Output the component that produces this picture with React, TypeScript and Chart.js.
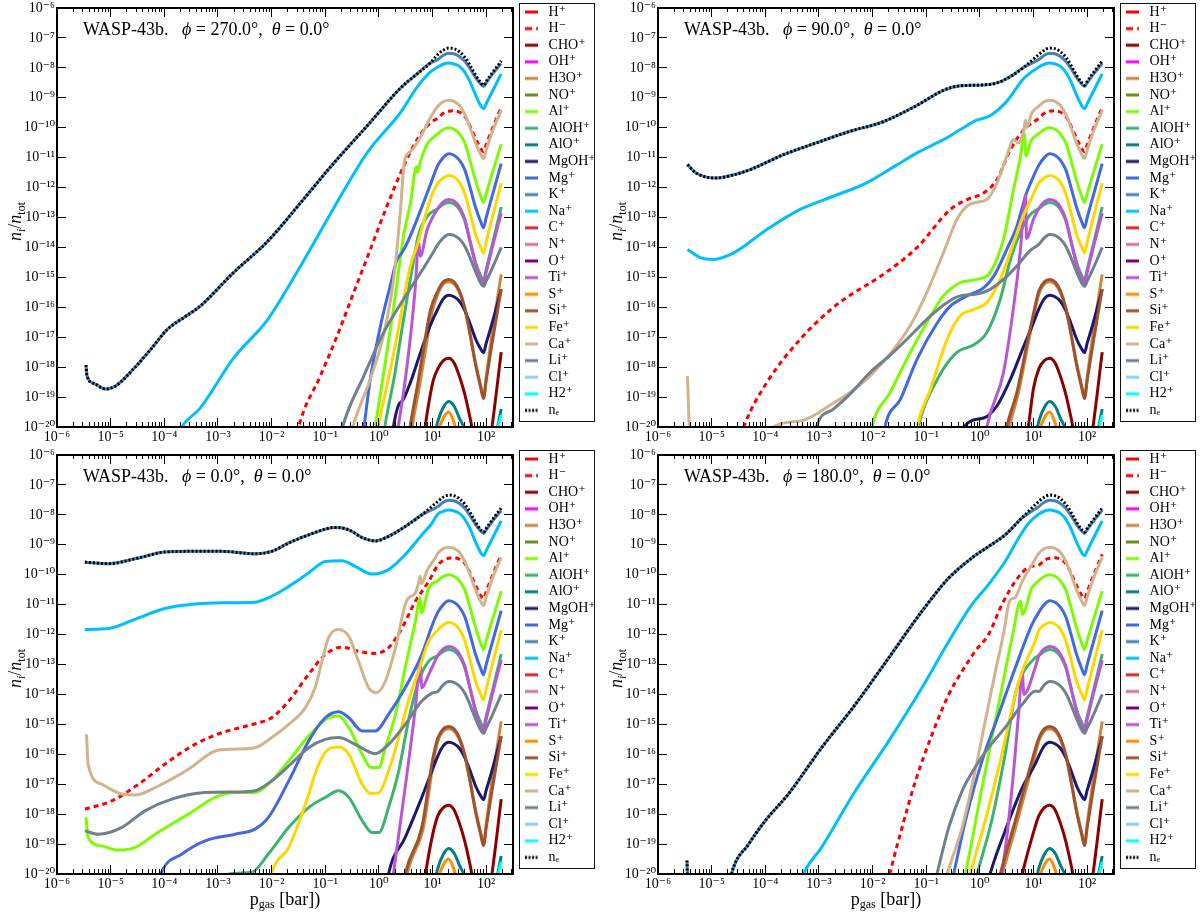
import React, { useEffect, useRef } from 'react';
import { Chart, registerables } from 'chart.js';

Chart.register(...registerables);

// ---------------- legend / series definitions ----------------
const SPECIES = ['H⁺', 'H⁻', 'CHO⁺', 'OH⁺', 'H3O⁺', 'NO⁺', 'Al⁺', 'AlOH⁺', 'AlO⁺', 'MgOH⁺', 'Mg⁺', 'K⁺', 'Na⁺', 'C⁺', 'N⁺', 'O⁺', 'Ti⁺', 'S⁺', 'Si⁺', 'Fe⁺', 'Ca⁺', 'Li⁺', 'Cl⁺', 'H2⁺', 'nₑ'];
const COLORS = ['#ff0000', '#ff0000', '#8b0000', '#ff00ff', '#cd853f', '#6b8e23', '#7cfc00', '#3cb371', '#008080', '#191970', '#4169e1', '#4682b4', '#00bfff', '#d62728', '#db7093', '#800080', '#ba55d3', '#ff8c00', '#a0522d', '#ffd700', '#d2b48c', '#708090', '#87cefa', '#00ffff', '#000000'];
const DASH_HM = [5, 4];
const DASH_NE = [2, 2];

// ---------------- axes ----------------
const X_MIN = 1e-6;
const X_MAX = 316;
const Y_MIN = 1e-20;
const Y_MAX = 1e-6;
const X_DECADES = [-6, -5, -4, -3, -2, -1, 0, 1, 2];
const X_MINOR_STEPS = [2, 3, 4, 5, 6, 7, 8, 9];
const Y_DECADES = [-20, -19, -18, -17, -16, -15, -14, -13, -12, -11, -10, -9, -8, -7, -6];

// ---------------- data: log10(p_gas [bar]) , log10(n_i/n_tot) ----------------
// deep atmosphere (shared by all four profiles), sampled at DEEP_P
const DEEP_P = [1.1, 1.2, 1.3, 1.4, 1.5, 1.6, 1.7, 1.8, 1.9, 1.95, 2.0, 2.1, 2.28];
const DEEP_NE = [-7.55, -7.41, -7.34, -7.36, -7.46, -7.64, -7.92, -8.24, -8.5, -8.58, -8.45, -8.2, -7.77];
const DEEP_K = [-7.72, -7.58, -7.51, -7.53, -7.62, -7.78, -8.03, -8.32, -8.55, -8.62, -8.5, -8.25, -7.85];
const DEEP_NA = [-7.97, -7.88, -7.84, -7.87, -7.95, -8.14, -8.47, -8.9, -9.27, -9.37, -9.2, -8.84, -8.2];
const DEEP_CA = [-9.28, -9.13, -9.08, -9.12, -9.25, -9.55, -10.0, -10.5, -10.9, -11.03, -10.75, -10.2, -9.42];
const DEEP_HM = [-9.68, -9.52, -9.45, -9.43, -9.48, -9.62, -9.95, -10.35, -10.7, -10.8, -10.57, -10.1, -9.32];
const DEEP_AL = [-10.2, -10.06, -10.0, -10.05, -10.2, -10.5, -11.1, -11.75, -12.3, -12.5, -12.2, -11.6, -10.55];
const DEEP_MG = [-11.25, -11.0, -10.87, -10.92, -11.08, -11.4, -12.0, -12.65, -13.15, -13.34, -13.0, -12.35, -11.2];
const DEEP_FE = [-11.85, -11.68, -11.6, -11.65, -11.82, -12.2, -12.85, -13.55, -14.0, -14.18, -13.82, -13.1, -11.85];
const DEEP_TI = [-12.7, -12.48, -12.4, -12.45, -12.65, -13.05, -13.8, -14.55, -15.05, -15.2, -14.83, -14.1, -12.85];
const DEEP_ALOH = [-12.7, -12.56, -12.5, -12.55, -12.72, -13.1, -13.8, -14.5, -14.95, -15.1, -14.73, -14.0, -12.65];
const DEEP_LI = [-13.9, -13.68, -13.57, -13.6, -13.72, -13.95, -14.35, -14.8, -15.2, -15.3, -15.12, -14.75, -14.0];
const DEEP_SI = [-15.45, -15.15, -15.07, -15.15, -15.45, -16.0, -16.9, -17.9, -18.7, -19.05, -18.45, -17.3, -15.4];
const DEEP_H3O = [-15.55, -15.22, -15.15, -15.22, -15.5, -16.05, -16.9, -17.85, -18.65, -19.0, -18.33, -17.0, -14.9];
const DEEP_MGOH = [-16.05, -15.72, -15.6, -15.65, -15.8, -16.1, -16.55, -17.05, -17.4, -17.52, -17.2, -16.6, -15.4];
const DEEP_CHO = [-18.05, -17.78, -17.7, -17.85, -18.3, -18.9, -19.7, -20.6, -21.5, -21.8, -21.2, -20.1, -17.5];
const DEEP_ALO = [-19.8, -19.35, -19.15, -19.3, -19.7, -20.1, -20.8, -21.5, -22, -22, -21.8, -21, -19.4];
const DEEP_S = [-20.2, -19.7, -19.5, -19.85, -20.5, -21.2, -22, -22, -22, -22, -22, -22, -22];
const DEEP_H2 = [-23, -23, -23, -23, -23, -23, -23, -23, -23, -23, -22.5, -21, -19.6];
const UP_ALO = [[1.0, -20.6]];
const UP_S = [[1.0, -21.3]];
const UP_H2: number[][] = [];

// phi = 270 deg
const P270_NE = [[-5.46, -17.93], [-5.44, -18.3], [-5.3, -18.55], [-5.1, -18.73], [-4.9, -18.62], [-4.58, -18.07], [-4.25, -17.4], [-3.95, -16.75], [-3.6, -16.3], [-3.33, -15.96], [-2.71, -14.84], [-2.07, -13.79], [-1.46, -12.51], [-0.84, -11.18], [-0.2, -9.9], [0.4, -8.68], [0.7, -8.22], [0.95, -7.85]];
const P270_NA = [[-3.8, -20.5], [-3.66, -19.96], [-3.33, -19.37], [-2.71, -17.7], [-2.07, -16.4], [-1.46, -14.62], [-0.84, -12.68], [-0.22, -10.84], [0.4, -9.5], [0.71, -8.65], [0.95, -8.15]];
const P270_HM = [[-1.55, -20.5], [-1.48, -19.9], [-1.09, -18.29], [-0.78, -16.96], [-0.47, -15.51], [-0.16, -14.07], [0.15, -12.62], [0.46, -11.29], [0.71, -10.4], [0.95, -9.85]];
const P270_CA = [[-0.55, -20.5], [-0.47, -19.9], [-0.16, -18.4], [0.09, -16.9], [0.28, -15.0], [0.4, -12.8], [0.47, -11.2], [0.55, -10.85], [0.62, -10.75], [0.78, -10.29], [0.98, -9.6]];
const P270_AL = [[-0.15, -21], [-0.06, -19.9], [0.09, -18.18], [0.28, -15.96], [0.46, -13.62], [0.59, -12.51], [0.7, -11.3], [0.72, -11.5], [0.78, -11.1], [0.9, -10.55], [1.0, -10.35]];
const P270_MG = [[-0.35, -21], [-0.27, -19.9], [-0.16, -18.4], [0.03, -16.62], [0.21, -15.29], [0.34, -14.4], [0.43, -14.18], [0.53, -13.84], [0.71, -13.07], [0.96, -11.9]];
const P270_FE = [[-0.08, -21], [0.0, -19.9], [0.15, -18.62], [0.34, -16.96], [0.53, -15.07], [0.62, -14.4], [0.71, -13.96], [0.9, -12.73], [1.0, -12.2]];
const P270_ALOH = [[0.04, -21], [0.12, -19.9], [0.28, -18.4], [0.46, -16.4], [0.65, -14.4], [0.74, -13.57], [0.9, -12.96]];
const P270_TI = [[0.3, -21], [0.37, -19.9], [0.46, -18.84], [0.59, -16.96], [0.68, -15.29], [0.74, -13.8], [0.77, -14.3], [0.9, -13.4], [1.0, -13.0]];
const P270_LI = [[-0.75, -20.6], [-0.66, -19.9], [-0.28, -18.29], [0.09, -16.84], [0.46, -15.73], [0.78, -14.84], [1.0, -14.2]];
const P270_SI = [[0.5, -21], [0.59, -19.9], [0.72, -18.6], [0.84, -17.3], [0.96, -16.1]];
const P270_H3O = [[0.55, -21], [0.63, -19.9], [0.76, -18.6], [0.88, -17.3], [0.98, -16.25]];
const P270_MGOH = [[0.2, -21], [0.28, -19.9], [0.37, -19.25], [0.45, -19.1], [0.59, -18.5], [0.78, -17.49], [0.96, -16.6]];
const P270_CHO = [[0.8, -21], [0.87, -19.9], [0.96, -18.9], [1.02, -18.4]];

// phi = 90 deg
const P90_NE = [[-5.45, -11.23], [-5.3, -11.5], [-5.1, -11.65], [-4.91, -11.68], [-4.6, -11.58], [-4.28, -11.4], [-3.66, -10.9], [-3.04, -10.5], [-2.42, -10.12], [-1.8, -9.8], [-1.17, -9.25], [-0.68, -8.75], [-0.37, -8.6], [0.07, -8.57], [0.32, -8.5], [0.57, -8.29], [0.82, -7.98]];
const P90_NA = [[-5.45, -14.07], [-5.2, -14.35], [-4.97, -14.4], [-4.59, -14.18], [-3.97, -13.4], [-3.35, -12.73], [-2.73, -12.29], [-2.11, -11.84], [-1.6, -11.3], [-1.17, -10.84], [-0.68, -10.4], [-0.37, -10.07], [-0.06, -9.75], [0.19, -9.6], [0.5, -9.12], [0.82, -8.35]];
const P90_HM = [[-4.5, -20.6], [-4.38, -19.9], [-3.97, -18.51], [-3.35, -17.07], [-2.73, -16.0], [-2.42, -15.6], [-1.8, -14.9], [-1.17, -14.0], [-0.55, -12.73], [-0.24, -12.4], [0.07, -12.18], [0.32, -11.73], [0.57, -10.73], [0.82, -10.07]];
const P90_CA = [[-5.45, -18.29], [-5.41, -20.3], [-5.2, -23], [-4.2, -22], [-3.85, -20], [-3.35, -19.8], [-2.73, -19.2], [-2.42, -18.85], [-2.05, -18.3], [-1.67, -17.55], [-1.3, -16.62], [-0.99, -15.51], [-0.68, -14.18], [-0.43, -13.07], [-0.24, -12.62], [-0.06, -12.49], [0.13, -12.4], [0.32, -11.84], [0.5, -10.96], [0.63, -10.4], [0.72, -10.51], [0.82, -10.07], [0.85, -9.75], [0.87, -10.0], [0.97, -9.5]];
const P90_AL = [[-2.1, -21], [-2.01, -20], [-1.67, -18.84], [-1.36, -17.73], [-0.99, -16.51], [-0.68, -15.62], [-0.37, -15.18], [-0.06, -15.07], [0.19, -14.84], [0.44, -13.73], [0.63, -12.04], [0.75, -11.04], [0.83, -10.2], [0.86, -10.95], [0.95, -10.45]];
const P90_MG = [[-1.85, -21], [-1.77, -20], [-1.48, -19.07], [-1.17, -17.73], [-0.79, -16.51], [-0.55, -15.96], [-0.24, -15.62], [0.07, -15.35], [0.26, -14.96], [0.5, -14.07], [0.69, -13.29], [0.86, -12.23], [0.98, -11.7]];
const P90_FE = [[-1.25, -21], [-1.17, -20], [-0.92, -18.73], [-0.61, -17.07], [-0.37, -16.29], [-0.11, -16.07], [0.13, -15.84], [0.38, -15.07], [0.63, -13.84], [0.78, -13.07], [0.95, -12.4]];
const P90_ALOH = [[-1.25, -21], [-1.15, -20], [-0.79, -18.4], [-0.43, -17.51], [-0.11, -17.25], [0.13, -16.84], [0.38, -15.73], [0.57, -14.4], [0.75, -13.51], [0.94, -12.9]];
const P90_TI = [[0.05, -21], [0.13, -20], [0.44, -18.18], [0.63, -15.96], [0.75, -14.18], [0.85, -12.25], [0.87, -13.7], [1.0, -13.05]];
const P90_LI = [[-3.15, -21], [-3.04, -19.95], [-2.73, -19.4], [-2.42, -18.9], [-2.05, -18.18], [-1.67, -17.6], [-1.3, -16.96], [-0.92, -16.29], [-0.61, -15.84], [-0.37, -15.62], [-0.06, -15.56], [0.19, -15.4], [0.44, -15.07], [0.69, -14.62], [0.94, -14.1]];
const P90_SI = [[0.4, -21], [0.5, -20], [0.69, -18.84], [0.88, -17.2], [1.0, -16.2]];
const P90_H3O = [[0.45, -21], [0.55, -20], [0.72, -18.84], [0.9, -17.2], [1.01, -16.25]];
const P90_MGOH = [[-0.4, -21], [-0.3, -20], [0.07, -19.7], [0.32, -19.29], [0.57, -18.4], [0.82, -17.29], [0.98, -16.6]];
const P90_CHO = [[0.82, -21], [0.91, -19.9], [1.0, -18.7]];

// phi = 0 deg
const P0_NE = [[-5.48, -9.58], [-5.04, -9.63], [-4.48, -9.44], [-3.99, -9.24], [-3.55, -9.22], [-2.93, -9.22], [-2.31, -9.3], [-2.0, -9.22], [-1.68, -8.94], [-1.31, -8.67], [-0.81, -8.42], [-0.56, -8.5], [-0.31, -8.76], [-0.07, -8.87], [0.18, -8.72], [0.49, -8.39], [0.8, -8.0]];
const P0_NA = [[-5.48, -11.83], [-5.04, -11.8], [-4.48, -11.44], [-3.99, -11.13], [-3.43, -10.98], [-2.93, -10.94], [-2.31, -10.92], [-2.0, -10.72], [-1.68, -10.39], [-1.31, -9.94], [-1.0, -9.56], [-0.69, -9.53], [-0.44, -9.72], [-0.13, -9.98], [0.18, -9.83], [0.49, -9.33], [0.8, -8.67], [0.99, -8.28]];
const P0_HM = [[-5.48, -17.83], [-4.98, -17.56], [-4.48, -17.0], [-3.99, -16.33], [-3.43, -15.67], [-2.93, -15.28], [-2.31, -14.98], [-2.0, -14.78], [-1.68, -14.22], [-1.31, -13.33], [-1.0, -12.67], [-0.69, -12.42], [-0.38, -12.56], [-0.1, -12.63], [0.18, -12.44], [0.43, -11.78], [0.68, -10.89], [0.93, -10.22]];
const P0_CA = [[-5.45, -15.33], [-5.42, -16.33], [-5.17, -17.0], [-4.79, -17.33], [-4.54, -17.36], [-4.17, -17.11], [-3.55, -16.5], [-3.05, -15.89], [-2.74, -15.83], [-2.31, -15.78], [-2.0, -15.44], [-1.68, -15.0], [-1.37, -14.44], [-1.19, -13.78], [-1.06, -12.89], [-0.94, -12.11], [-0.75, -11.83], [-0.56, -12.06], [-0.38, -12.89], [-0.19, -13.78], [-0.04, -13.94], [0.12, -13.56], [0.31, -12.44], [0.49, -11.0], [0.55, -10.78], [0.68, -10.61], [0.75, -10.2], [0.77, -10.05], [0.79, -10.3], [0.9, -9.85], [1.05, -9.44]];
const P0_AL = [[-5.46, -18.11], [-5.42, -18.78], [-5.17, -19.06], [-4.86, -19.2], [-4.54, -19.11], [-4.17, -18.67], [-3.55, -18.0], [-3.05, -17.44], [-2.68, -17.28], [-2.31, -17.28], [-2.0, -16.89], [-1.68, -16.22], [-1.31, -15.39], [-0.94, -14.78], [-0.75, -14.72], [-0.56, -15.11], [-0.31, -16.0], [-0.15, -16.44], [0.0, -16.44], [0.12, -15.78], [0.31, -14.67], [0.49, -13.11], [0.68, -11.56], [0.77, -10.78], [0.79, -11.28], [0.93, -10.44]];
const P0_MG = [[-4.15, -20.6], [-4.05, -19.94], [-3.67, -19.33], [-3.24, -18.89], [-2.68, -18.67], [-2.31, -18.5], [-2.06, -18.11], [-1.68, -16.89], [-1.31, -15.56], [-1.0, -14.78], [-0.75, -14.58], [-0.56, -14.78], [-0.31, -15.22], [-0.07, -15.22], [0.18, -14.67], [0.49, -13.78], [0.8, -12.67], [0.98, -11.75]];
const P0_FE = [[-2.1, -21], [-2.0, -20], [-1.68, -19.11], [-1.37, -17.67], [-1.12, -16.33], [-0.94, -15.83], [-0.75, -15.76], [-0.56, -16.0], [-0.31, -17.0], [-0.15, -17.31], [0.0, -17.28], [0.18, -16.56], [0.37, -15.44], [0.55, -14.22], [0.74, -13.22], [0.93, -12.22]];
const P0_ALOH = [[-3.0, -20.5], [-2.8, -20.0], [-2.37, -19.94], [-2.06, -19.33], [-1.68, -18.44], [-1.31, -17.78], [-1.0, -17.44], [-0.75, -17.22], [-0.56, -17.44], [-0.31, -18.22], [-0.13, -18.61], [0.0, -18.61], [0.18, -17.78], [0.37, -16.56], [0.55, -14.89], [0.74, -13.56], [0.93, -12.89]];
const P0_TI = [[0.2, -21], [0.27, -20], [0.49, -17.11], [0.68, -14.44], [0.77, -12.94], [0.8, -13.78], [0.93, -13.33]];
const P0_LI = [[-5.48, -18.56], [-5.23, -18.67], [-4.79, -18.44], [-4.36, -17.89], [-3.86, -17.5], [-3.24, -17.28], [-2.62, -17.26], [-2.31, -17.22], [-2.0, -16.89], [-1.68, -16.39], [-1.31, -15.78], [-1.0, -15.5], [-0.75, -15.44], [-0.44, -15.67], [-0.07, -15.98], [0.18, -15.67], [0.49, -15.0], [0.8, -14.22], [1.0, -13.95]];
const P0_SI = [[0.4, -21], [0.49, -20], [0.8, -18.44], [1.0, -16.2]];
const P0_H3O = [[0.45, -21], [0.53, -20], [0.83, -18.44], [1.02, -16.2]];
const P0_MGOH = [[0.1, -21], [0.18, -20], [0.49, -18.78], [0.8, -17.44], [0.98, -16.6]];
const P0_CHO = [[0.8, -21], [0.87, -20], [1.0, -18.7]];

// phi = 180 deg
const P180_NE = [[-5.46, -19.55], [-5.44, -20.6], [-5.0, -22], [-4.7, -20.7], [-4.63, -20], [-4.31, -19.0], [-4.0, -18.22], [-3.57, -17.33], [-2.95, -15.78], [-2.32, -14.33], [-1.7, -12.78], [-1.08, -11.22], [-0.58, -10.11], [-0.15, -9.44], [0.16, -9.06], [0.47, -8.67], [0.78, -8.11]];
const P180_NA = [[-3.4, -20.6], [-3.29, -20], [-2.95, -19.11], [-2.32, -17.22], [-1.7, -15.56], [-1.08, -13.78], [-0.65, -12.44], [-0.15, -11.0], [0.16, -10.33], [0.47, -9.56], [0.72, -8.78], [0.91, -8.28]];
const P180_HM = [[-1.75, -20.6], [-1.67, -19.94], [-1.45, -18.44], [-1.2, -16.89], [-0.89, -15.33], [-0.58, -14.0], [-0.33, -13.22], [-0.09, -12.56], [0.16, -12.0], [0.41, -11.0], [0.66, -10.22], [0.91, -9.75]];
const P180_CA = [[-0.7, -20.6], [-0.61, -20], [-0.33, -18.44], [-0.09, -16.56], [0.1, -14.89], [0.29, -13.22], [0.45, -11.89], [0.54, -10.94], [0.6, -10.8], [0.66, -10.76], [0.79, -10.22], [0.97, -9.67]];
const P180_AL = [[-0.35, -20.6], [-0.27, -20], [0.04, -17.11], [0.35, -14.33], [0.6, -12.11], [0.76, -10.89], [0.79, -11.33], [0.97, -10.44]];
const P180_MG = [[-0.57, -20.6], [-0.49, -20], [-0.27, -18.22], [0.04, -16.22], [0.35, -14.67], [0.66, -13.11], [0.97, -11.67]];
const P180_FE = [[-0.26, -20.6], [-0.18, -20], [0.1, -18.22], [0.41, -16.0], [0.66, -14.0], [0.79, -13.22], [1.03, -12.22]];
const P180_ALOH = [[-0.13, -20.6], [-0.05, -20], [0.22, -18.22], [0.47, -16.0], [0.66, -14.0], [0.79, -13.33], [1.03, -12.78]];
const P180_TI = [[0.33, -20.6], [0.41, -20], [0.6, -17.11], [0.72, -14.67], [0.79, -13.22], [0.82, -14.0], [1.03, -13.11]];
const P180_LI = [[-0.88, -20.6], [-0.8, -20], [-0.58, -18.44], [-0.33, -17.22], [-0.09, -16.44], [0.16, -15.78], [0.47, -15.11], [0.79, -14.33], [1.03, -13.89]];
const P180_SI = [[0.3, -20.6], [0.38, -20], [0.66, -18.22], [0.97, -16.22]];
const P180_H3O = [[0.34, -20.6], [0.42, -20], [0.7, -18.22], [1.0, -16.22]];
const P180_MGOH = [[0.11, -20.6], [0.19, -20], [0.47, -18.56], [0.79, -17.11], [1.03, -16.33]];
const P180_CHO = [[0.72, -20.6], [0.79, -20], [1.0, -18.6]];

// ---------------- helpers ----------------
const DEEP_SERIES = [null, DEEP_HM, DEEP_CHO, null, DEEP_H3O, null, DEEP_AL, DEEP_ALOH, DEEP_ALO, DEEP_MGOH, DEEP_MG, DEEP_K, DEEP_NA, null, null, null, DEEP_TI, DEEP_S, DEEP_SI, DEEP_FE, DEEP_CA, DEEP_LI, null, DEEP_H2, DEEP_NE];

function upperTable(ne: any, na: any, hm: any, ca: any, al: any, mg: any, fe: any, aloh: any, ti: any, li: any, si: any, h3o: any, mgoh: any, cho: any) {
  return [[], hm, cho, [], h3o, [], al, aloh, UP_ALO, mgoh, mg, ne, na, [], [], [], ti, UP_S, si, fe, ca, li, [], UP_H2, ne];
}

const PANELS = [
  { phi: '270.0', left: 0, top: 0, width: 600, height: 447, padRight: 5, xTitle: false,
    upper: upperTable(P270_NE, P270_NA, P270_HM, P270_CA, P270_AL, P270_MG, P270_FE, P270_ALOH, P270_TI, P270_LI, P270_SI, P270_H3O, P270_MGOH, P270_CHO) },
  { phi: '90.0', left: 601, top: 0, width: 599, height: 447, padRight: 4, xTitle: false,
    upper: upperTable(P90_NE, P90_NA, P90_HM, P90_CA, P90_AL, P90_MG, P90_FE, P90_ALOH, P90_TI, P90_LI, P90_SI, P90_H3O, P90_MGOH, P90_CHO) },
  { phi: '0.0', left: 0, top: 447, width: 600, height: 466, padRight: 5, xTitle: true,
    upper: upperTable(P0_NE, P0_NA, P0_HM, P0_CA, P0_AL, P0_MG, P0_FE, P0_ALOH, P0_TI, P0_LI, P0_SI, P0_H3O, P0_MGOH, P0_CHO) },
  { phi: '180.0', left: 601, top: 447, width: 599, height: 466, padRight: 4, xTitle: true,
    upper: upperTable(P180_NE, P180_NA, P180_HM, P180_CA, P180_AL, P180_MG, P180_FE, P180_ALOH, P180_TI, P180_LI, P180_SI, P180_H3O, P180_MGOH, P180_CHO) },
];

function joinSeries(upper: number[][], deep: number[] | null) {
  const pts = upper.map(([p, n]) => ({ x: Math.pow(10, p), y: Math.pow(10, n) }));
  if (deep) DEEP_P.forEach((p, i) => pts.push({ x: Math.pow(10, p), y: Math.pow(10, deep[i]) }));
  return pts;
}

const SUP: Record<string, string> = { '-': '⁻', '0': '⁰', '1': '¹', '2': '²', '3': '³', '4': '⁴', '5': '⁵', '6': '⁶', '7': '⁷', '8': '⁸', '9': '⁹' };
function pow10Label(v: number) {
  const e = Math.log10(v);
  const r = Math.round(e);
  if (Math.abs(e - r) > 1e-6) return '';
  return '10' + String(r).split('').map((c) => SUP[c]).join('');
}

function xTickList() {
  const out: any[] = [];
  for (const d of X_DECADES) {
    out.push({ value: Math.pow(10, d), major: true });
    for (const k of X_MINOR_STEPS) {
      const v = k * Math.pow(10, d);
      if (v <= X_MAX) out.push({ value: v, major: false });
    }
  }
  return out;
}
function yTickList() {
  return Y_DECADES.map((d) => ({ value: Math.pow(10, d), major: true }));
}

const SERIF = '"Liberation Serif", "DejaVu Serif", serif';
const TICK_FONT = { family: SERIF, size: 14, lineHeight: 1 };
const PAD_TOP = 2.4;

function sampleImage(color: string, dash: number[]) {
  const c = document.createElement('canvas');
  c.width = 13;
  c.height = 6;
  const g = c.getContext('2d') as CanvasRenderingContext2D;
  g.strokeStyle = color;
  g.lineWidth = 3;
  g.setLineDash(dash);
  g.beginPath();
  g.moveTo(0, 3);
  g.lineTo(13, 3);
  g.stroke();
  return c;
}

function drawRuns(ctx: CanvasRenderingContext2D, runs: any[], x: number, y: number) {
  let cx = x;
  for (const r of runs) {
    ctx.font = `${r.italic ? 'italic ' : ''}${r.size}px ${SERIF}`;
    ctx.fillText(r.text, cx, y + (r.dy || 0));
    cx += ctx.measureText(r.text).width;
  }
}
function runsWidth(ctx: CanvasRenderingContext2D, runs: any[]) {
  let w = 0;
  for (const r of runs) {
    ctx.font = `${r.italic ? 'italic ' : ''}${r.size}px ${SERIF}`;
    w += ctx.measureText(r.text).width;
  }
  return w;
}

function decoPlugin(panel: any) {
  return {
    id: 'panelDeco',
    afterDraw(chart: any) {
      const ctx = chart.ctx as CanvasRenderingContext2D;
      const ca = chart.chartArea;
      const lg = chart.legend;
      ctx.save();
      // legend frame
      ctx.strokeStyle = '#111';
      ctx.lineWidth = 1;
      ctx.strokeRect(Math.round(lg.left) + 0.5, Math.round(ca.top - 5) + 0.5, Math.round(lg.width) - 1, Math.round(ca.bottom - ca.top) - 1);
      ctx.fillStyle = '#000';
      ctx.textBaseline = 'alphabetic';
      ctx.textAlign = 'left';
      // panel title inside the plot
      drawRuns(ctx, [
        { text: 'WASP-43b.   ', size: 18 },
        { text: 'ϕ', size: 18, italic: true },
        { text: ` = ${panel.phi}°,  `, size: 18 },
        { text: 'θ', size: 18, italic: true },
        { text: ' = 0.0°', size: 18 },
      ], ca.left + 26, ca.top + 27);
      // y axis title
      const yRuns = [
        { text: 'n', size: 18, italic: true },
        { text: 'i', size: 12, italic: true, dy: 4 },
        { text: '/', size: 18 },
        { text: 'n', size: 18, italic: true },
        { text: 'tot', size: 12, dy: 4 },
      ];
      const yw = runsWidth(ctx, yRuns);
      ctx.save();
      ctx.translate(21, (ca.top + ca.bottom) / 2 + 4);
      ctx.rotate(-Math.PI / 2);
      drawRuns(ctx, yRuns, -yw / 2, 0);
      ctx.restore();
      // x axis title
      if (panel.xTitle) {
        const xRuns = [
          { text: 'p', size: 18 },
          { text: 'gas', size: 12, dy: 3 },
          { text: ' [bar])', size: 18 },
        ];
        const xw = runsWidth(ctx, xRuns);
        drawRuns(ctx, xRuns, (ca.left + ca.right) / 2 - xw / 2, ca.bottom + 31);
      }
      ctx.restore();
    },
  };
}

function buildChart(canvas: HTMLCanvasElement, panel: any) {
  const samples = SPECIES.map((_, i) => sampleImage(COLORS[i], i === 1 ? [7, 4] : i === 24 ? [2, 1.5] : []));
  const datasets = SPECIES.map((label, i) => ({
    label,
    data: joinSeries(panel.upper[i], DEEP_SERIES[i]),
    borderColor: COLORS[i],
    backgroundColor: COLORS[i],
    borderWidth: 3,
    borderDash: i === 1 ? DASH_HM : i === 24 ? DASH_NE : [],
    pointRadius: 0,
    pointHoverRadius: 0,
    pointHitRadius: 0,
    fill: false,
    cubicInterpolationMode: 'monotone',
    order: SPECIES.length - i,
    clip: 0,
    xAxisID: 'x',
    yAxisID: 'y',
  }));

  const xGrid = (top: boolean) => ({
    display: true,
    drawOnChartArea: false,
    drawTicks: true,
    tickLength: -9,
    tickWidth: 1,
    tickColor: '#000',
    z: 1,
    tickBorderDash: (c: any) => (c.tick && c.tick.major ? [] : top ? [0, 5, 6, 40] : [6, 40]),
  });
  const yGrid = { display: true, drawOnChartArea: false, drawTicks: true, tickLength: -9, tickWidth: 1, tickColor: '#000', z: 1 };
  const border = { display: true, color: '#000', width: 2, z: 1 };
  const noPad = (s: any) => { s.paddingTop = 0; s.paddingBottom = 0; s.paddingLeft = 0; s.paddingRight = 0; };

  return new Chart(canvas, {
    type: 'line',
    data: { datasets } as any,
    options: {
      animation: false,
      responsive: false,
      maintainAspectRatio: false,
      events: [],
      layout: { padding: { top: PAD_TOP, left: 0, right: panel.padRight, bottom: 0 } },
      elements: { line: { capBezierPoints: false, borderJoinStyle: 'round' } },
      scales: {
        x: {
          type: 'logarithmic', position: 'bottom', min: X_MIN, max: X_MAX,
          afterBuildTicks: (s: any) => { s.ticks = xTickList(); },
          afterFit: (s: any) => { s.height = panel.height - 427; noPad(s); },
          grid: xGrid(false), border,
          ticks: { autoSkip: false, maxRotation: 0, minRotation: 0, padding: 12, color: '#000', font: TICK_FONT, callback: (v: any) => pow10Label(Number(v)) },
        },
        xt: {
          type: 'logarithmic', position: 'top', min: X_MIN, max: X_MAX,
          afterBuildTicks: (s: any) => { s.ticks = xTickList(); },
          afterFit: (s: any) => { s.height = 8 - PAD_TOP; noPad(s); },
          grid: xGrid(true), border,
          ticks: { display: false, autoSkip: false, maxRotation: 0 },
        },
        y: {
          type: 'logarithmic', position: 'left', min: Y_MIN, max: Y_MAX,
          afterBuildTicks: (s: any) => { s.ticks = yTickList(); },
          afterFit: (s: any) => { s.width = 57; noPad(s); },
          grid: yGrid, border,
          ticks: { autoSkip: false, padding: 11, color: '#000', font: TICK_FONT, callback: (v: any) => pow10Label(Number(v)) },
        },
        yr: {
          type: 'logarithmic', position: 'right', min: Y_MIN, max: Y_MAX,
          afterBuildTicks: (s: any) => { s.ticks = yTickList(); },
          afterFit: (s: any) => { s.width = 6; noPad(s); },
          grid: yGrid, border,
          ticks: { display: false, autoSkip: false },
        },
      } as any,
      plugins: {
        tooltip: { enabled: false },
        title: { display: false },
        legend: {
          display: true,
          position: 'right',
          align: 'start',
          maxWidth: 76,
          labels: {
            usePointStyle: true,
            pointStyleWidth: 20,
            padding: 2.6,
            color: '#000',
            font: { family: SERIF, size: 14 },
            sort: (a: any, b: any) => a.datasetIndex - b.datasetIndex,
            generateLabels: (chart: any) => {
              const items = (Chart.defaults.plugins.legend.labels as any).generateLabels(chart);
              return items.map((it: any) => ({ ...it, pointStyle: samples[it.datasetIndex], hidden: false }));
            },
          },
        },
      },
    } as any,
    plugins: [decoPlugin(panel)],
  });
}

export default function App() {
  const r0 = useRef<HTMLCanvasElement>(null);
  const r1 = useRef<HTMLCanvasElement>(null);
  const r2 = useRef<HTMLCanvasElement>(null);
  const r3 = useRef<HTMLCanvasElement>(null);
  const refs = [r0, r1, r2, r3];

  useEffect(() => {
    const charts = PANELS.map((p, i) => buildChart(refs[i].current as HTMLCanvasElement, p));
    return () => charts.forEach((c) => c.destroy());
  }, []);

  return (
    <div style={{ position: 'absolute', left: 0, top: 0, width: 1200, height: 913, background: '#fff', overflow: 'hidden' }}>
      {PANELS.map((p, i) => (
        <canvas
          key={i}
          ref={refs[i]}
          width={p.width}
          height={p.height}
          style={{ position: 'absolute', left: p.left, top: p.top, width: p.width, height: p.height }}
        />
      ))}
    </div>
  );
}
